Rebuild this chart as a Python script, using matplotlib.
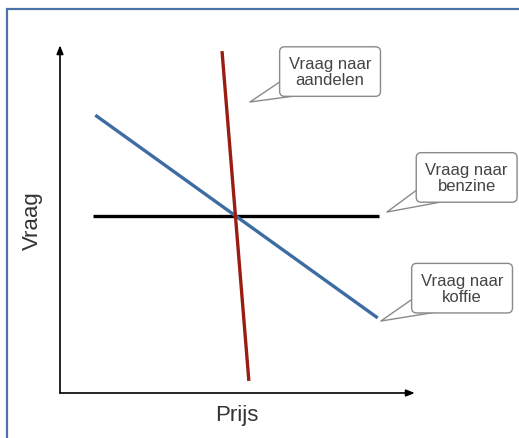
import matplotlib.pyplot as plt
from matplotlib.patches import Rectangle

plt.rcParams['font.family'] = ['Liberation Sans', 'DejaVu Sans']

# demand lines (x = prijs, y = vraag), arbitrary units 0..10
koffie_x = [1.0, 9.0]
koffie_y = [8.03, 2.17]
benzine_x = [0.94, 9.04]
benzine_y = [5.12, 5.12]
aandelen_x = [4.59, 5.35]
aandelen_y = [9.88, 0.35]

# callouts: label, point on line, box centre
callouts = [
    ("Vraag naar\naandelen", (5.38, 8.41), (7.65, 9.29)),
    ("Vraag naar\nbenzine", (9.26, 5.23), (11.52, 6.23)),
    ("Vraag naar\nkoffie", (9.09, 2.08), (11.39, 3.03)),
]

fig = plt.figure(figsize=(5.19, 4.39), dpi=100)
fig.add_artist(Rectangle((7 / 519, -0.1), 1.0, (439 - 10) / 439 + 0.1,
                         transform=fig.transFigure, fill=False,
                         ec='#4a74a8', lw=1.6))

ax = fig.add_axes([60 / 519, 45 / 439, 353 / 519, 346 / 439])
ax.set_xlim(0, 10)
ax.set_ylim(0, 10)
for s in ax.spines.values():
    s.set_visible(False)
ax.set_xticks([])
ax.set_yticks([])
ax.patch.set_alpha(0)

# axes with arrow heads
arrow = dict(arrowstyle='-|>,head_length=0.5,head_width=0.2', color='black',
             lw=1.2, shrinkA=0, shrinkB=0)
ax.annotate('', xy=(0, 10.05), xytext=(0, 0), xycoords='data', arrowprops=arrow,
            annotation_clip=False)
ax.annotate('', xy=(10.05, 0), xytext=(0, 0), xycoords='data', arrowprops=arrow,
            annotation_clip=False)

ax.plot(benzine_x, benzine_y, color='black', lw=2.4, solid_capstyle='butt')
ax.plot(koffie_x, koffie_y, color='#3d6ca3', lw=2.4, solid_capstyle='butt')
ax.plot(aandelen_x, aandelen_y, color='#9a1d12', lw=2.4, solid_capstyle='butt')

for label, tip, centre in callouts:
    ax.annotate(label, xy=tip, xytext=centre, ha='center', va='center',
                fontsize=12, color='#444444', linespacing=1.1,
                annotation_clip=False,
                bbox=dict(boxstyle='round,pad=0.55,rounding_size=0.3',
                          fc='white', ec='#8a8a8a', lw=1.0),
                arrowprops=dict(arrowstyle='wedge,tail_width=2.4,shrink_factor=0.5',
                                fc='white', ec='#8a8a8a', lw=1.0,
                                patchA=None, shrinkA=0, shrinkB=0))

ax.set_xlabel('Prijs', fontsize=16, color='#333333', labelpad=8)
ax.set_ylabel('Vraag', fontsize=16, color='#333333', labelpad=12)

fig.savefig('out.png', dpi=100)
